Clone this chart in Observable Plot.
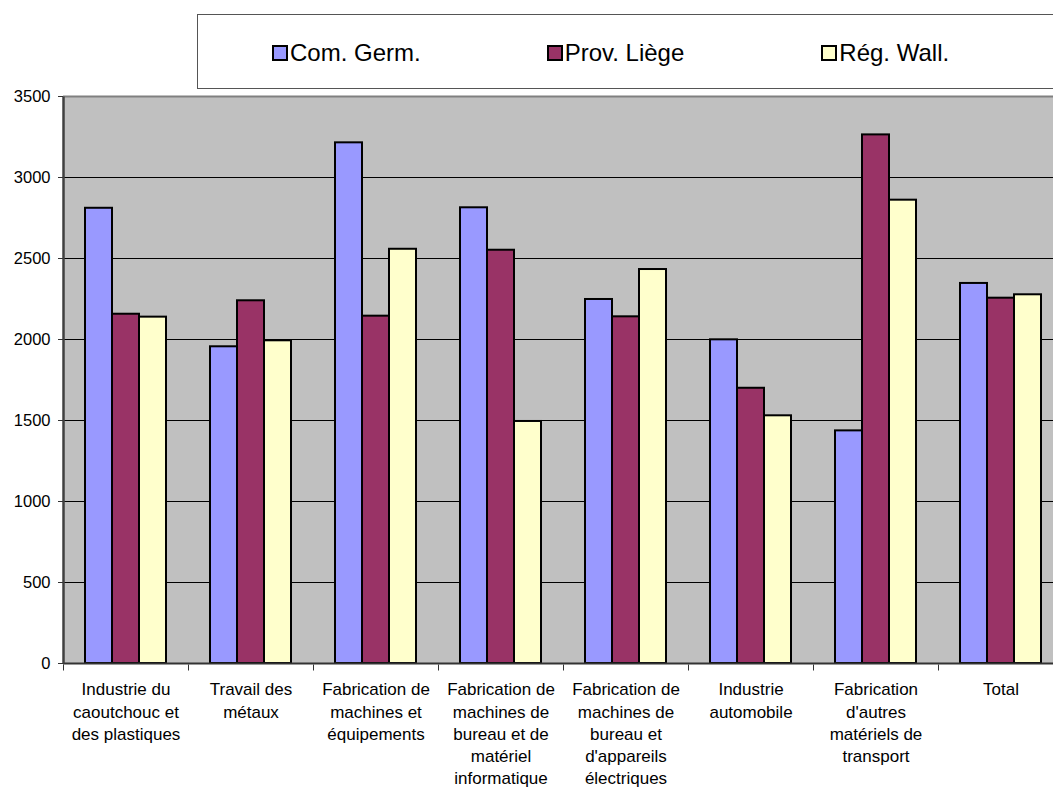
<!DOCTYPE html>
<html>
<head>
<meta charset="utf-8">
<script src="https://cdn.jsdelivr.net/npm/d3@7"></script>
<script src="https://cdn.jsdelivr.net/npm/@observablehq/plot@0.6"></script>
<style>
  html, body { margin: 0; padding: 0; background: #fff; overflow: hidden; }
  body { width: 1053px; height: 789px; font-family: "Liberation Sans", Arial, sans-serif; }
  #legendWrap { height: 80px; position: relative; z-index: 1; }
  #legend {
    position: absolute; left: 197px; top: 14px; width: 900px; height: 75px;
    border: 1px solid #555; box-sizing: border-box; background: #fff;
    display: flex; align-items: center; padding-left: 74px; padding-top: 2px;
  }
  .item { display: flex; align-items: center; width: 296px; font-size: 24px; color: #000; }
  .sw { width: 12px; height: 12px; border: 2px solid #000; margin-right: 2px; }
  #chart { width: 1053px; overflow: hidden; }
  #chart svg { display: block; max-width: none !important; }
</style>
</head>
<body>
<div id="legendWrap"><div id="legend"></div></div>
<div id="chart"></div>
<script>
const categories = [
  "Industrie du caoutchouc et des plastiques",
  "Travail des métaux",
  "Fabrication de machines et équipements",
  "Fabrication de machines de bureau et de matériel informatique",
  "Fabrication de machines de bureau et d'appareils électriques",
  "Industrie automobile",
  "Fabrication d'autres matériels de transport",
  "Total"
];
const tickLabels = [
  "Industrie du\ncaoutchouc et\ndes plastiques",
  "Travail des\nmétaux",
  "Fabrication de\nmachines et\néquipements",
  "Fabrication de\nmachines de\nbureau et de\nmatériel\ninformatique",
  "Fabrication de\nmachines de\nbureau et\nd'appareils\nélectriques",
  "Industrie\nautomobile",
  "Fabrication\nd'autres\nmatériels de\ntransport",
  "Total"
];
const seriesNames = ["Com. Germ.", "Prov. Liège", "Rég. Wall."];
const comGerm   = [2810, 1955, 3214, 2813, 2247, 1998, 1436, 2346];
const provLiege = [2156, 2239, 2144, 2551, 2140, 1699, 3263, 2255];
const regWall   = [2138, 1992, 2557, 1494, 2432, 1529, 2860, 2276];
const colors = ["#9999ff", "#993366", "#ffffcc"];
const yTicks = [0, 500, 1000, 1500, 2000, 2500, 3000, 3500];

const seriesValues = [comGerm, provLiege, regWall];
const data = categories.flatMap((c, i) =>
  seriesNames.map((s, j) => ({category: c, series: s, value: seriesValues[j][i]}))
);

// legend
const legend = document.getElementById("legend");
seriesNames.forEach((s, j) => {
  const it = document.createElement("div");
  it.className = "item";
  const sw = document.createElement("div");
  sw.className = "sw";
  sw.style.background = colors[j];
  const t = document.createElement("span");
  t.textContent = s;
  it.appendChild(sw); it.appendChild(t);
  legend.appendChild(it);
});

const W = 1075, H = 720, MT = 16, MB = 137, ML = 63, MR = 12;
const plotH = H - MT - MB;
const tickSym = { draw(context) { context.moveTo(0, 1); context.lineTo(0, 7); } };
const axisLineSym = { draw(context) { context.moveTo(0, 0); context.lineTo(0, -plotH); } };

const chart = Plot.plot({
  width: W,
  height: H,
  marginTop: MT,
  marginLeft: ML,
  marginRight: MR,
  marginBottom: MB,
  style: { fontFamily: "'Liberation Sans', Arial, sans-serif", fontSize: "16.5px", color: "#000", background: "transparent", maxWidth: "none" },
  fx: { domain: categories, padding: 0, label: null, axis: null },
  x: { domain: seriesNames, paddingInner: 0, paddingOuter: 0.755, axis: null },
  y: { domain: [0, 3500], axis: null },
  color: { domain: seriesNames, range: colors },
  marks: [
    Plot.frame({ fill: "#c0c0c0", stroke: null, shapeRendering: "crispEdges" }),
    Plot.gridY(yTicks.slice(1, -1), { stroke: "#000", strokeOpacity: 1, strokeWidth: 1 }),
    Plot.ruleY([3500], { stroke: "#808080", strokeWidth: 2 }),
    Plot.barY(data, { fx: "category", x: "series", y: "value", fill: "series", stroke: "#000", strokeWidth: 2 }),
    Plot.ruleY([0], { stroke: "#333", strokeWidth: 2 }),
    Plot.dot([categories[0]], { fx: d => d, frameAnchor: "bottom-left", symbol: axisLineSym, fill: "none", stroke: "#404040", strokeWidth: 2.5 }),
    Plot.axisY(yTicks, { tickSize: 5, tickPadding: 8, tickFormat: "d", label: null, fontSize: 16.5, stroke: "#333" }),
    Plot.dot(categories, { fx: d => d, frameAnchor: "bottom-left", symbol: tickSym, fill: "none", stroke: "#333", strokeWidth: 1 }),
    Plot.axisFx({
      anchor: "bottom", tickSize: 0, tickPadding: 16, fontSize: 17, lineHeight: 1.31, label: null,
      tickFormat: d => tickLabels[categories.indexOf(d)]
    })
  ]
});
document.getElementById("chart").appendChild(chart);
</script>
</body>
</html>
